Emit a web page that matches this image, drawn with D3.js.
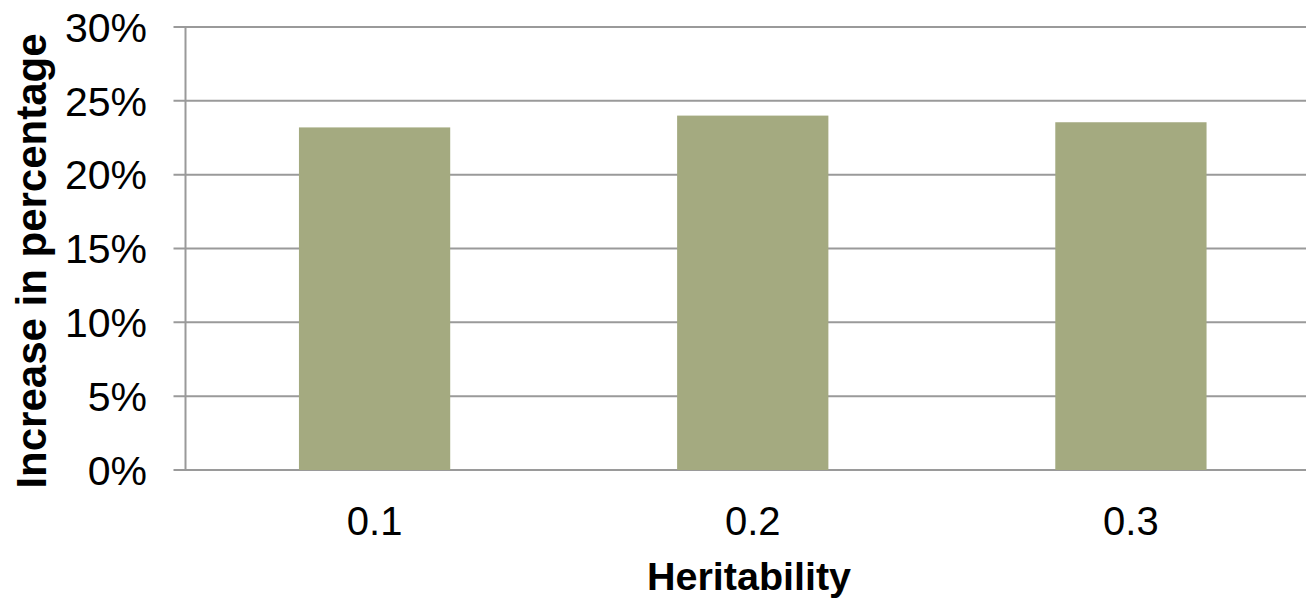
<!DOCTYPE html>
<html>
<head>
<meta charset="utf-8">
<script src="https://cdn.jsdelivr.net/npm/d3@7"></script>
<style>
  html, body { margin: 0; padding: 0; background: #fff; overflow: hidden; }
  svg { display: block; }
</style>
</head>
<body>
<div id="chart"></div>
<script>
const categories = ["0.1", "0.2", "0.3"];
const values = [0.232, 0.240, 0.2355];
const yTicks = [0, 0.05, 0.10, 0.15, 0.20, 0.25, 0.30];
const xTitle = "Heritability";
const yTitle = "Increase in percentage";

const W = 1306, H = 600;
const mLeft = 185.5, mRight = 1320, mTop = 27, mBottom = 470;

const svg = d3.select("#chart").append("svg")
  .attr("width", W).attr("height", H);

const x = d3.scaleBand().domain(categories).range([mLeft, mRight])
  .paddingInner(0.6).paddingOuter(0.3);
const y = d3.scaleLinear().domain([0, 0.30]).range([mBottom, mTop]);

const gridColor = "#9a9a9a";

// gridlines
svg.append("g").selectAll("line").data(yTicks).join("line")
  .attr("x1", mLeft - 12).attr("x2", mRight)
  .attr("y1", d => y(d)).attr("y2", d => y(d))
  .attr("stroke", gridColor).attr("stroke-width", 2);

// y axis line
svg.append("line")
  .attr("x1", mLeft).attr("x2", mLeft)
  .attr("y1", mTop).attr("y2", mBottom)
  .attr("stroke", gridColor).attr("stroke-width", 2);

// bars
svg.append("g").selectAll("rect").data(categories).join("rect")
  .attr("x", d => x(d))
  .attr("width", x.bandwidth())
  .attr("y", (d, i) => y(values[i]))
  .attr("height", (d, i) => y(0) - y(values[i]))
  .attr("fill", "#a4aa80");

// y tick labels
svg.append("g").selectAll("text").data(yTicks).join("text")
  .attr("x", 147)
  .attr("y", d => y(d))
  .attr("dy", "0.36em")
  .attr("text-anchor", "end")
  .attr("font-family", "Liberation Sans, Arial, sans-serif")
  .attr("font-size", 41)
  .attr("fill", "#000")
  .text(d => d3.format(".0%")(d));

// x tick labels
svg.append("g").selectAll("text").data(categories).join("text")
  .attr("x", d => x(d) + x.bandwidth() / 2)
  .attr("y", 535)
  .attr("text-anchor", "middle")
  .attr("font-family", "Liberation Sans, Arial, sans-serif")
  .attr("font-size", 40)
  .attr("fill", "#000")
  .text(d => d);

// x title
svg.append("text")
  .attr("x", 749).attr("y", 590)
  .attr("text-anchor", "middle")
  .attr("font-family", "Liberation Sans, Arial, sans-serif")
  .attr("font-size", 39.5)
  .attr("font-weight", "bold")
  .attr("fill", "#000")
  .text(xTitle);

// y title
svg.append("text")
  .attr("transform", "translate(46,261) rotate(-90)")
  .attr("text-anchor", "middle")
  .attr("font-family", "Liberation Sans, Arial, sans-serif")
  .attr("font-size", 42)
  .attr("font-weight", "bold")
  .attr("fill", "#000")
  .text(yTitle);
</script>
</body>
</html>
